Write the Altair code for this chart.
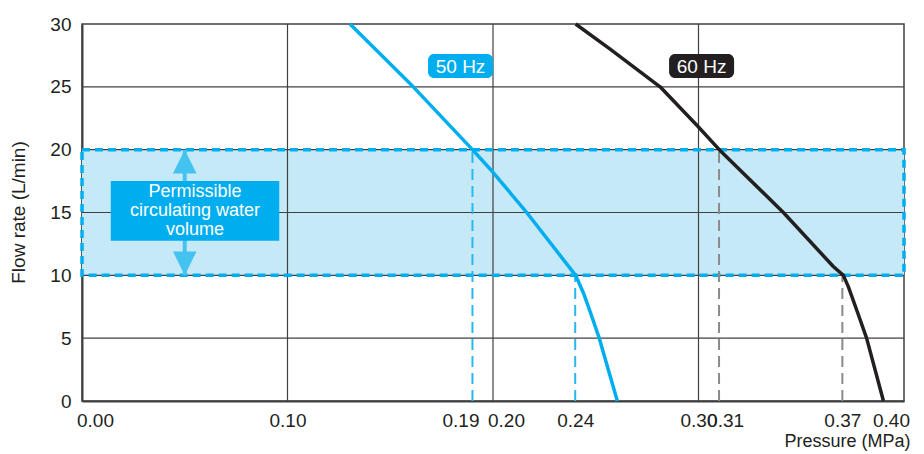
import altair as alt
import pandas as pd

# ---- data ----
pressure_50 = [0.1304, 0.1612, 0.190, 0.200, 0.2164, 0.2402, 0.2440, 0.2475, 0.2517, 0.2605]
flow_50 = [30, 25, 20, 18.2, 15, 10, 8.6, 7, 5, 0]
pressure_60 = [0.2402, 0.2570, 0.2813, 0.300, 0.3101, 0.3413, 0.3656, 0.3705, 0.3729, 0.3775, 0.3818, 0.3900]
flow_60 = [30, 28.0, 25, 21.8, 20, 15, 10.7, 10, 9.1, 7, 5, 0]

x_tick_values = [0.00, 0.10, 0.19, 0.20, 0.24, 0.30, 0.31, 0.37, 0.40]
y_tick_values = [0, 5, 10, 15, 20, 25, 30]
grid_x = [0.10, 0.20, 0.30]
grid_y = [5, 10, 15, 20, 25]

band_low, band_high = 10, 20
drop_x = [0.19, 0.24, 0.31, 0.37]
drop_y = [20, 10, 20, 10]
drop_series = ["50 Hz", "50 Hz", "60 Hz", "60 Hz"]

series_names = ["50 Hz", "60 Hz"]
series_label_x = [0.1842, 0.3015]
series_label_y = [26.65, 26.65]

note_text = "Permissible\ncirculating water\nvolume"
note_x, note_x2 = 0.014, 0.096
note_y, note_y2 = 12.75, 17.5
arrow_x = 0.05

BLUE = "#00aeef"
BLACK = "#231f20"
BAND = "#c6e9f8"
ARROW = "#45c3f0"
GRID = "#404040"
FONT = "Liberation Sans"

X_DOM = [0, 0.4]
Y_DOM = [0, 30]

curves = pd.concat([
    pd.DataFrame({"p": pressure_50, "q": flow_50, "s": "50 Hz"}),
    pd.DataFrame({"p": pressure_60, "q": flow_60, "s": "60 Hz"}),
])
color_scale = alt.Scale(domain=series_names, range=[BLUE, BLACK])

x_scale = alt.Scale(domain=X_DOM, nice=False, zero=False)
y_scale = alt.Scale(domain=Y_DOM, nice=False)

offset_cond = {
    "condition": [
        {"test": "abs(datum.value - 0.00) < 0.001", "value": 13},
        {"test": "abs(datum.value - 0.19) < 0.001", "value": -12},
        {"test": "abs(datum.value - 0.20) < 0.001", "value": 13},
        {"test": "abs(datum.value - 0.31) < 0.001", "value": 6},
        {"test": "abs(datum.value - 0.40) < 0.001", "value": -13},
    ],
    "value": 0,
}

x_axis = alt.Axis(
    values=x_tick_values, format=".2f", grid=False, ticks=False, tickSize=0,
    labelFontSize=19, labelColor=BLACK, labelPadding=10, labelOverlap=False, labelFlush=False,
    labelOffset=offset_cond, domainColor=GRID, domainWidth=2,
    title="Pressure (MPa)", titleFontSize=18, titleFontWeight="normal", titleColor=BLACK,
    titleAnchor="start", titleAlign="right", titleX=828, titleY=40, titleBaseline="middle",
)
y_axis = alt.Axis(
    values=y_tick_values, grid=False, ticks=False, tickSize=0,
    labelFontSize=19, labelColor=BLACK, labelPadding=11,
    domainColor=GRID, domainWidth=2,
    title="Flow rate (L/min)", titleFontSize=19, titleFontWeight="normal", titleColor=BLACK,
    titleAngle=-90, titleX=-64, titleY=188, titleAlign="center", titleBaseline="middle",
    titleAnchor="start",
)

band_df = pd.DataFrame({"x": [X_DOM[0]], "x2": [X_DOM[1]], "y": [band_low], "y2": [band_high]})

band_fill = alt.Chart(band_df).mark_rect(color=BAND).encode(
    x=alt.X("x:Q", scale=x_scale, axis=x_axis),
    x2="x2:Q",
    y=alt.Y("y:Q", scale=y_scale, axis=y_axis),
    y2="y2:Q",
)

vgrid = alt.Chart(pd.DataFrame({"gx": grid_x})).mark_rule(color=GRID, strokeWidth=1.2).encode(
    x=alt.X("gx:Q", scale=x_scale), y=alt.value(0), y2=alt.value(377)
)
hgrid = alt.Chart(pd.DataFrame({"gy": grid_y})).mark_rule(color=GRID, strokeWidth=1.2).encode(
    y=alt.Y("gy:Q", scale=y_scale), x=alt.value(0), x2=alt.value(822)
)

band_border = alt.Chart(band_df).mark_rect(
    fill=None, fillOpacity=0, stroke=BLUE, strokeWidth=3.5, strokeDash=[8, 5]
).encode(x=alt.X("x:Q", scale=x_scale), x2="x2:Q", y=alt.Y("y:Q", scale=y_scale), y2="y2:Q")

drops_df = pd.DataFrame({"dx": drop_x, "dy": drop_y, "s": drop_series, "zero": 0})
drops = alt.Chart(drops_df).mark_rule(strokeWidth=2, strokeDash=[11, 6]).encode(
    x=alt.X("dx:Q", scale=x_scale),
    y=alt.Y("zero:Q", scale=y_scale),
    y2="dy:Q",
    stroke=alt.Stroke("s:N", scale=alt.Scale(domain=series_names, range=["#29b8ee", "#8a8a8a"]), legend=None),
)

lines = alt.Chart(curves).mark_line(strokeWidth=3.5, strokeJoin="round").encode(
    x=alt.X("p:Q", scale=x_scale),
    y=alt.Y("q:Q", scale=y_scale),
    color=alt.Color("s:N", scale=color_scale, legend=None),
    order=alt.Order("q:Q", sort="descending"),
)

# arrow
arrow_df = pd.DataFrame({"ax": [arrow_x], "lo": [band_low], "hi": [band_high]})
shaft = alt.Chart(arrow_df).mark_rule(color=ARROW, strokeWidth=4).encode(
    x=alt.X("ax:Q", scale=x_scale), y=alt.Y("lo:Q", scale=y_scale), y2="hi:Q"
)
head_up = alt.Chart(arrow_df).mark_point(
    shape="M0,-1L-1,1L1,1Z", filled=True, size=560, color=ARROW, opacity=1, yOffset=12
).encode(x=alt.X("ax:Q", scale=x_scale), y=alt.Y("hi:Q", scale=y_scale))
head_down = alt.Chart(arrow_df).mark_point(
    shape="M0,1L-1,-1L1,-1Z", filled=True, size=560, color=ARROW, opacity=1, yOffset=-12
).encode(x=alt.X("ax:Q", scale=x_scale), y=alt.Y("lo:Q", scale=y_scale))

note_df = pd.DataFrame({"x": [note_x], "x2": [note_x2], "y": [note_y], "y2": [note_y2],
                        "cx": [(note_x + note_x2) / 2], "cy": [(note_y + note_y2) / 2], "t": [note_text]})
note_box = alt.Chart(note_df).mark_rect(color=BLUE).encode(
    x=alt.X("x:Q", scale=x_scale), x2="x2:Q", y=alt.Y("y:Q", scale=y_scale), y2="y2:Q"
)
note_txt = alt.Chart(note_df).mark_text(
    color="white", fontSize=18, lineBreak="\n", lineHeight=19, align="center", baseline="middle", dy=-19
).encode(x=alt.X("cx:Q", scale=x_scale), y=alt.Y("cy:Q", scale=y_scale), text="t:N")

lab_df = pd.DataFrame({"lx": series_label_x, "ly": series_label_y, "s": series_names})
lab_box = alt.Chart(lab_df).mark_rect(width=65, height=24, cornerRadius=6).encode(
    x=alt.X("lx:Q", scale=x_scale), y=alt.Y("ly:Q", scale=y_scale),
    color=alt.Color("s:N", scale=color_scale, legend=None),
)
lab_txt = alt.Chart(lab_df).mark_text(color="white", fontSize=19, align="center", baseline="middle", dy=1).encode(
    x=alt.X("lx:Q", scale=x_scale), y=alt.Y("ly:Q", scale=y_scale), text="s:N"
)

chart = alt.layer(
    band_fill, vgrid, hgrid, band_border, drops, lines, shaft, head_up, head_down,
    note_box, note_txt, lab_box, lab_txt,
).properties(
    width=822, height=377,
    autosize=alt.AutoSizeParams(type="none"),
    padding={"left": 74, "top": 16, "right": 12, "bottom": 50},
).configure(font=FONT).configure_view(stroke=GRID, strokeWidth=1.5)

chart.save("out.html", embed_options={"renderer": "svg", "actions": False})
